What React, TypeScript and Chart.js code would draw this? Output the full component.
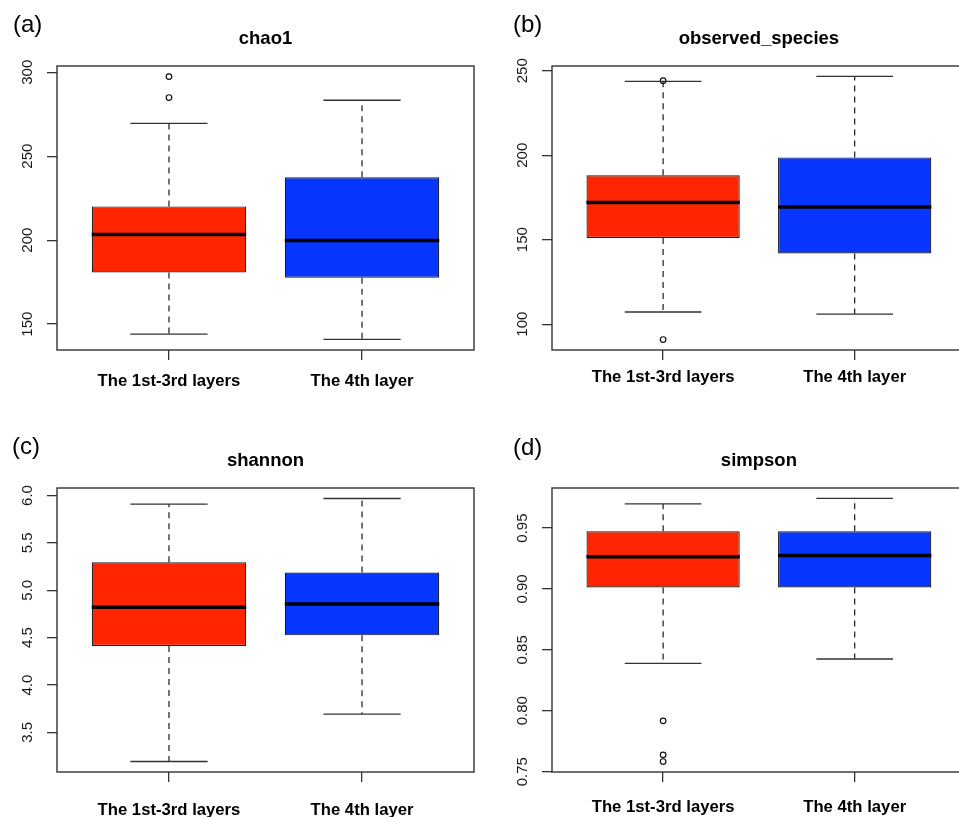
import React, { useEffect, useRef } from "react";
import { Chart, registerables } from "chart.js";

Chart.register(...registerables);

// ---------- data ----------
const categories = ["The 1st-3rd layers", "The 4th layer"];
const boxColors = ["#ff2500", "#0636ff"];

const chao1Min = [144.0, 140.9];
const chao1Q1 = [180.8, 177.6];
const chao1Median = [203.4, 199.8];
const chao1Q3 = [220.1, 237.5];
const chao1Max = [269.5, 283.3];
const chao1Outliers = [[297.4, 284.9], []];
const chao1Ticks = [150, 200, 250, 300];
const chao1TickLabels = ["150", "200", "250", "300"];
const chao1Range = [134.6, 303.7];

const observedMin = [107.2, 105.9];
const observedQ1 = [151.0, 141.8];
const observedMedian = [172.0, 169.3];
const observedQ3 = [188.1, 198.7];
const observedMax = [243.7, 246.6];
const observedOutliers = [[244.1, 90.9], []];
const observedTicks = [100, 150, 200, 250];
const observedTickLabels = ["100", "150", "200", "250"];
const observedRange = [84.7, 252.8];

const shannonMin = [3.193, 3.693];
const shannonQ1 = [4.411, 4.524];
const shannonMedian = [4.82, 4.855];
const shannonQ3 = [5.296, 5.187];
const shannonMax = [5.908, 5.968];
const shannonOutliers = [[], []];
const shannonTicks = [3.5, 4.0, 4.5, 5.0, 5.5, 6.0];
const shannonTickLabels = ["3.5", "4.0", "4.5", "5.0", "5.5", "6.0"];
const shannonRange = [3.082, 6.079];

const simpsonMin = [0.8389, 0.8425];
const simpsonQ1 = [0.9012, 0.9012];
const simpsonMedian = [0.9264, 0.9275];
const simpsonQ3 = [0.9473, 0.9473];
const simpsonMax = [0.9698, 0.9743];
const simpsonOutliers = [[0.7917, 0.7638, 0.7583], []];
const simpsonTicks = [0.75, 0.8, 0.85, 0.9, 0.95];
const simpsonTickLabels = ["0.75", "0.80", "0.85", "0.90", "0.95"];
const simpsonRange = [0.7497, 0.9829];

// ---------- layout ----------
const FONT = "'Liberation Sans', Arial, Helvetica, sans-serif";

type Panel = {
  key: string;
  label: string;
  title: string;
  min: number[];
  q1: number[];
  med: number[];
  q3: number[];
  max: number[];
  outliers: number[][];
  ticks: number[];
  tickLabels: string[];
  range: number[];
  left: number;
  top: number;
  width: number;
  height: number;
  padTop: number;
  padRight: number;
  yAxisWidth: number;
  xAxisHeight: number;
  xLabelPad: number;
  titleY: number;
  labelX: number;
  labelY: number;
};

const panels: Panel[] = [
  {
    key: "a", label: "(a)", title: "chao1",
    min: chao1Min, q1: chao1Q1, med: chao1Median, q3: chao1Q3, max: chao1Max, outliers: chao1Outliers,
    ticks: chao1Ticks, tickLabels: chao1TickLabels, range: chao1Range,
    left: 0, top: 0, width: 480, height: 408, padTop: 66, padRight: 6,
    yAxisWidth: 57, xAxisHeight: 58, xLabelPad: 11.5, titleY: 44, labelX: 13, labelY: 32.3,
  },
  {
    key: "b", label: "(b)", title: "observed_species",
    min: observedMin, q1: observedQ1, med: observedMedian, q3: observedQ3, max: observedMax, outliers: observedOutliers,
    ticks: observedTicks, tickLabels: observedTickLabels, range: observedRange,
    left: 480, top: 0, width: 491, height: 408, padTop: 66, padRight: 1,
    yAxisWidth: 72, xAxisHeight: 58, xLabelPad: 7.5, titleY: 44, labelX: 33, labelY: 32.3,
  },
  {
    key: "c", label: "(c)", title: "shannon",
    min: shannonMin, q1: shannonQ1, med: shannonMedian, q3: shannonQ3, max: shannonMax, outliers: shannonOutliers,
    ticks: shannonTicks, tickLabels: shannonTickLabels, range: shannonRange,
    left: 0, top: 408, width: 480, height: 409, padTop: 80, padRight: 6,
    yAxisWidth: 57, xAxisHeight: 45, xLabelPad: 18.5, titleY: 58, labelX: 12, labelY: 46.3,
  },
  {
    key: "d", label: "(d)", title: "simpson",
    min: simpsonMin, q1: simpsonQ1, med: simpsonMedian, q3: simpsonQ3, max: simpsonMax, outliers: simpsonOutliers,
    ticks: simpsonTicks, tickLabels: simpsonTickLabels, range: simpsonRange,
    left: 480, top: 408, width: 491, height: 409, padTop: 80, padRight: 1,
    yAxisWidth: 72, xAxisHeight: 45, xLabelPad: 15.5, titleY: 58, labelX: 33, labelY: 47,
  },
];

function makePlugin(p: Panel) {
  return {
    id: "boxplot_" + p.key,
    afterDatasetsDraw(chart: any) {
      const ctx = chart.ctx;
      const xs = chart.scales.x;
      const ys = chart.scales.y;
      ctx.save();
      for (let i = 0; i < categories.length; i++) {
        const pos = i + 1;
        const cx = xs.getPixelForValue(pos);
        // whiskers (dashed)
        ctx.strokeStyle = "#1a1a1a";
        ctx.lineWidth = 1.2;
        ctx.setLineDash([6, 5]);
        ctx.beginPath();
        ctx.moveTo(cx, ys.getPixelForValue(p.q3[i]));
        ctx.lineTo(cx, ys.getPixelForValue(p.max[i]));
        ctx.moveTo(cx, ys.getPixelForValue(p.q1[i]));
        ctx.lineTo(cx, ys.getPixelForValue(p.min[i]));
        ctx.stroke();
        // caps
        ctx.setLineDash([]);
        ctx.strokeStyle = "#333";
        ctx.lineWidth = 1.3;
        ctx.beginPath();
        const cl = xs.getPixelForValue(pos - 0.2);
        const cr = xs.getPixelForValue(pos + 0.2);
        ctx.moveTo(cl, ys.getPixelForValue(p.max[i]));
        ctx.lineTo(cr, ys.getPixelForValue(p.max[i]));
        ctx.moveTo(cl, ys.getPixelForValue(p.min[i]));
        ctx.lineTo(cr, ys.getPixelForValue(p.min[i]));
        ctx.stroke();
        // median
        ctx.strokeStyle = "#000";
        ctx.lineWidth = 3.5;
        ctx.beginPath();
        ctx.moveTo(xs.getPixelForValue(pos - 0.4), ys.getPixelForValue(p.med[i]));
        ctx.lineTo(xs.getPixelForValue(pos + 0.4), ys.getPixelForValue(p.med[i]));
        ctx.stroke();
      }
      ctx.restore();
    },
    afterDraw(chart: any) {
      const ctx = chart.ctx;
      const a = chart.chartArea;
      const ys = chart.scales.y;
      ctx.save();
      // frame
      ctx.strokeStyle = "#333";
      ctx.lineWidth = 1.4;
      ctx.setLineDash([]);
      ctx.strokeRect(a.left, a.top, a.right - a.left, a.bottom - a.top);
      // rotated y tick labels
      ctx.fillStyle = "#1a1a1a";
      ctx.font = "15px " + FONT;
      ctx.textAlign = "center";
      ctx.textBaseline = "middle";
      p.ticks.forEach((v, i) => {
        const y = ys.getPixelForValue(v);
        ctx.save();
        ctx.translate(a.left - 29, y);
        ctx.rotate(-Math.PI / 2);
        ctx.fillText(p.tickLabels[i], 0, 0);
        ctx.restore();
      });
      // title
      ctx.fillStyle = "#000";
      ctx.font = "bold 18.5px " + FONT;
      ctx.textAlign = "center";
      ctx.textBaseline = "alphabetic";
      ctx.fillText(p.title, (a.left + a.right) / 2, p.titleY);
      // panel label
      ctx.font = "24px " + FONT;
      ctx.textAlign = "left";
      ctx.fillText(p.label, p.labelX, p.labelY);
      ctx.restore();
    },
  };
}

function BoxPanel({ p }: { p: Panel }) {
  const ref = useRef<HTMLCanvasElement | null>(null);
  useEffect(() => {
    if (!ref.current) return;
    const boxes = categories.map((_, i) => ({ x: i + 1, y: [p.q1[i], p.q3[i]] }));
    const outPts: { x: number; y: number }[] = [];
    p.outliers.forEach((arr, i) => arr.forEach((v) => outPts.push({ x: i + 1, y: v })));
    const chart = new Chart(ref.current, {
      type: "bar",
      data: {
        datasets: [
          {
            type: "bar",
            data: boxes as any,
            backgroundColor: boxColors,
            borderColor: "#1a1a1a",
            borderWidth: 1.2,
            borderSkipped: false,
            barPercentage: 0.8,
            categoryPercentage: 1,
            order: 2,
          } as any,
          {
            type: "scatter",
            data: outPts as any,
            pointStyle: "circle",
            pointRadius: 2.8,
            pointBorderWidth: 1.2,
            borderColor: "#111",
            backgroundColor: "rgba(0,0,0,0)",
            order: 1,
          } as any,
        ],
      },
      plugins: [makePlugin(p)],
      options: {
        animation: false,
        responsive: false,
        maintainAspectRatio: false,
        devicePixelRatio: 1,
        layout: { padding: { left: 0, top: p.padTop, right: p.padRight, bottom: 0 } },
        plugins: { legend: { display: false }, tooltip: { enabled: false }, title: { display: false } },
        scales: {
          x: {
            type: "linear",
            min: 0.42,
            max: 2.58,
            offset: false,
            border: { display: false },
            grid: { offset: false, drawOnChartArea: false, drawTicks: true, tickLength: 10, color: "#333", lineWidth: 1.3 },
            afterBuildTicks: (s: any) => {
              s.ticks = categories.map((_, i) => ({ value: i + 1 }));
            },
            afterFit: (s: any) => {
              s.height = p.xAxisHeight;
            },
            ticks: {
              autoSkip: false,
              maxRotation: 0,
              minRotation: 0,
              padding: p.xLabelPad,
              color: "#000",
              font: { family: FONT, size: 16.7, weight: "bold" },
              callback: (_v: any, idx: number) => categories[idx],
            },
          },
          y: {
            type: "linear",
            min: p.range[0],
            max: p.range[1],
            border: { display: false },
            grid: { offset: false, drawOnChartArea: false, drawTicks: true, tickLength: 10, color: "#333", lineWidth: 1.3 },
            afterBuildTicks: (s: any) => {
              s.ticks = p.ticks.map((v) => ({ value: v }));
            },
            afterFit: (s: any) => {
              s.width = p.yAxisWidth;
            },
            ticks: { display: false },
          },
        },
      } as any,
    });
    return () => chart.destroy();
  }, [p]);
  return (
    <canvas
      ref={ref}
      width={p.width}
      height={p.height}
      style={{ position: "absolute", left: p.left, top: p.top, width: p.width, height: p.height, display: "block" }}
    />
  );
}

export default function App() {
  return (
    <div
      style={{
        position: "absolute",
        left: 0,
        top: 0,
        width: 959,
        height: 817,
        overflow: "hidden",
        background: "#fff",
      }}
    >
      {panels.map((p) => (
        <BoxPanel key={p.key} p={p} />
      ))}
    </div>
  );
}
